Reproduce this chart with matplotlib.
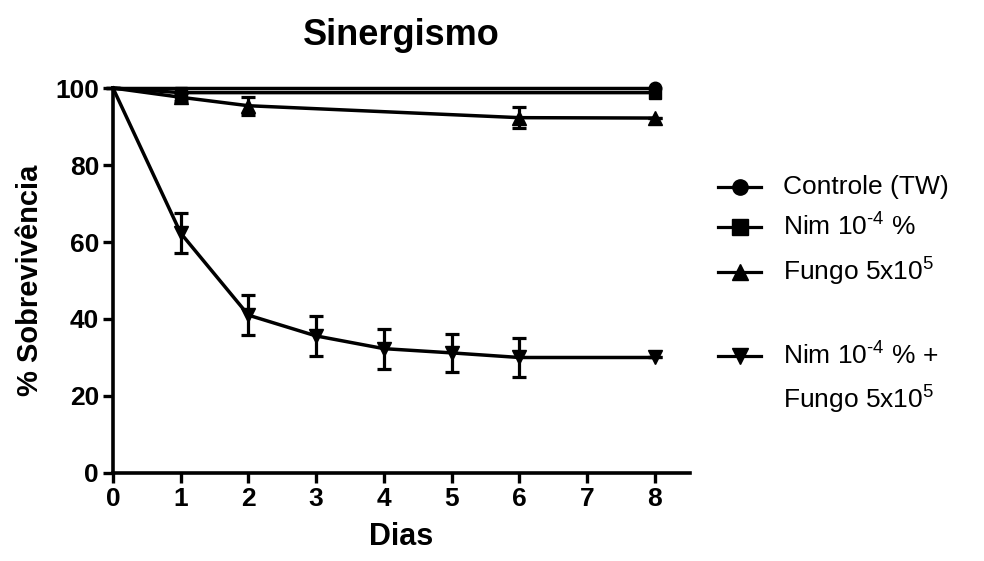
import numpy as np
import matplotlib.pyplot as plt
from matplotlib.lines import Line2D

plt.rcParams['font.family'] = ['Liberation Sans', 'DejaVu Sans']
plt.rcParams['mathtext.fontset'] = 'custom'
plt.rcParams['mathtext.rm'] = 'Liberation Sans'
plt.rcParams['mathtext.it'] = 'Liberation Sans'

# dados
dias_ctrl = [0, 8]
ctrl = [100, 100]

dias_nim = [0, 1, 8]
nim = [100, 98.8, 98.8]

dias_fungo = [0, 1, 2, 6, 8]
fungo = [100, 97.6, 95.4, 92.3, 92.2]
fungo_err = [0, 1.0, 2.3, 2.8, 0]

dias_comb = [0, 1, 2, 3, 4, 5, 6, 8]
comb = [100, 62.3, 41.0, 35.6, 32.3, 31.2, 30.0, 30.0]
comb_err = [0, 5.2, 5.2, 5.2, 5.2, 5.0, 5.0, 0]

labels = ['Controle (TW)', r'Nim 10$^{\text{-}4}$ %', 'Fungo 5x10$^{5}$',
          r'Nim 10$^{\text{-}4}$ % +', 'Fungo 5x10$^{5}$']
markers = ['o', 's', '^', 'v']

fig = plt.figure(figsize=(9.84, 5.61), dpi=100)
ax = fig.add_axes([0.1148, 0.1569, 0.5864, 0.6862])

lw = 2.5
ms = 10
ek = dict(elinewidth=2.3, capsize=5, capthick=2.3)

ax.errorbar(dias_comb, comb, yerr=comb_err, color='black', lw=lw, marker='v',
            ms=ms, markevery=slice(1, None), clip_on=False, zorder=3, **ek)
ax.errorbar(dias_fungo, fungo, yerr=fungo_err, color='black', lw=lw, marker='^',
            ms=ms, markevery=slice(1, None), clip_on=False, zorder=4, **ek)
ax.plot(dias_nim, nim, color='black', lw=lw, marker='s', ms=ms - 1,
        markevery=slice(1, None), clip_on=False, zorder=5)
ax.plot(dias_ctrl, ctrl, color='black', lw=lw, marker='o', ms=ms - 1,
        markevery=slice(1, None), clip_on=False, zorder=6)

ax.set_xlim(0, 8.52)
ax.set_ylim(0, 100)
ax.set_xticks(range(0, 9))
ax.set_yticks(range(0, 101, 20))
for s in ['top', 'right']:
    ax.spines[s].set_visible(False)
for s in ['left', 'bottom']:
    ax.spines[s].set_linewidth(2.6)
ax.tick_params(width=2.4, length=7, labelsize=19, pad=3)
for t in ax.get_xticklabels() + ax.get_yticklabels():
    t.set_fontweight('bold')

ax.set_xlabel('Dias', fontsize=22, fontweight='bold', labelpad=8)
ax.set_ylabel('% Sobrevivência', fontsize=21, fontweight='bold', labelpad=8)
ax.set_title('Sinergismo', fontsize=26, fontweight='bold', pad=31)

# legenda manual
rows = [187, 227, 272, 356]
for mk, yp in zip(markers, rows):
    yf = 1 - yp / 561
    fig.add_artist(Line2D([718 / 984, 761 / 984], [yf, yf], color='black',
                          lw=2.3, transform=fig.transFigure))
    fig.add_artist(Line2D([739.5 / 984], [yf], color='black', marker=mk, ms=11,
                          transform=fig.transFigure))
for lab, yp in zip(labels, rows + [400]):
    fig.text(783 / 984, 1 - yp / 561, lab, fontsize=19, va='center')

fig.savefig('out.png', dpi=100)
